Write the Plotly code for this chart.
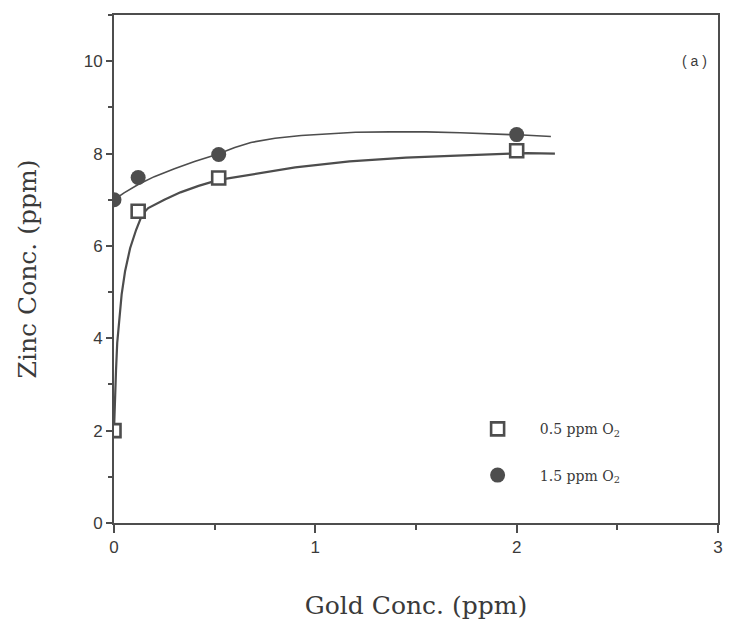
import plotly.graph_objects as go

# measured points
gold_pts = [0.0, 0.12, 0.52, 2.0]
zinc_05 = [2.0, 6.75, 7.47, 8.06]
zinc_15 = [7.0, 7.48, 7.98, 8.41]

# fitted curves
curve05_x = [0.0, 0.004, 0.01, 0.016, 0.025, 0.038, 0.055, 0.08, 0.11, 0.14, 0.17, 0.25, 0.33, 0.42, 0.52, 0.68, 0.9, 1.17, 1.45, 1.67, 1.87, 2.05, 2.19]
curve05_y = [2.0, 2.7, 3.3, 3.9, 4.4, 4.95, 5.45, 5.95, 6.35, 6.68, 6.82, 7.0, 7.16, 7.3, 7.43, 7.55, 7.7, 7.83, 7.91, 7.95, 7.99, 8.01, 8.0]
curve15_x = [0.0, 0.05, 0.12, 0.2, 0.3, 0.4, 0.51, 0.6, 0.68, 0.8, 0.93, 1.07, 1.2, 1.37, 1.55, 1.72, 1.87, 2.03, 2.17]
curve15_y = [7.0, 7.15, 7.33, 7.5, 7.67, 7.83, 7.98, 8.13, 8.24, 8.33, 8.39, 8.43, 8.46, 8.47, 8.47, 8.45, 8.43, 8.4, 8.37]

labels = ["0.5 ppm O<sub>2</sub>", "1.5 ppm O<sub>2</sub>"]
x_ticks = [0, 1, 2, 3]
y_ticks = [0, 2, 4, 6, 8, 10]

ink = "#4d4d4d"
serif = "DejaVu Serif, Liberation Serif, serif"
sans = "Liberation Sans, Arial, sans-serif"

fig = go.Figure()
fig.add_trace(go.Scatter(x=curve05_x, y=curve05_y, mode="lines",
                         line=dict(color=ink, width=2.2), showlegend=False, hoverinfo="skip"))
fig.add_trace(go.Scatter(x=curve15_x, y=curve15_y, mode="lines",
                         line=dict(color=ink, width=1.6), showlegend=False, hoverinfo="skip"))
fig.add_trace(go.Scatter(x=gold_pts, y=zinc_05, mode="markers", name="     " + labels[0],
                         legendgroup="a",
                         marker=dict(symbol="square", size=13, color="white",
                                     line=dict(color=ink, width=2.6))))
fig.add_trace(go.Scatter(x=gold_pts, y=zinc_15, mode="markers", name="     " + labels[1],
                         legendgroup="b",
                         marker=dict(symbol="circle", size=15, color=ink,
                                     line=dict(color=ink, width=0))))

axis_common = dict(
    showgrid=False, zeroline=False, showline=True, mirror=True,
    linecolor=ink, linewidth=2, ticks="outside", tickcolor=ink, tickwidth=2,
    tickfont=dict(family=sans, size=17, color="#3a3a3a"),
)

fig.update_xaxes(range=[0, 3], tickvals=x_ticks, ticklen=8,
                 minor=dict(dtick=0.5, ticks="outside", ticklen=5, tickwidth=1.5, tickcolor=ink),
                 title=dict(text="Gold Conc. (ppm)", standoff=40,
                            font=dict(family=serif, size=25, color="#3a3a3a")),
                 **axis_common)
fig.update_yaxes(range=[0, 11], tickvals=y_ticks, ticklen=6,
                 minor=dict(dtick=1, ticks="outside", ticklen=4, tickwidth=1.5, tickcolor=ink),
                 title=dict(text="Zinc Conc. (ppm)", standoff=40,
                            font=dict(family=serif, size=25, color="#3a3a3a")),
                 **axis_common)

fig.add_annotation(x=0.985, y=10.0, xref="paper", yref="y", text="( a )", showarrow=False,
                   xanchor="right", font=dict(family=sans, size=14, color="#3a3a3a"))

fig.update_layout(
    width=723, height=627,
    margin=dict(l=106, r=13, t=5, b=112),
    paper_bgcolor="white", plot_bgcolor="white",
    legend=dict(x=0.602, y=0.216, xanchor="left", yanchor="top", bgcolor="rgba(0,0,0,0)",
                tracegroupgap=25,
                font=dict(family=serif, size=14, color="#3a3a3a")),
)

fig.write_html("out.html")
